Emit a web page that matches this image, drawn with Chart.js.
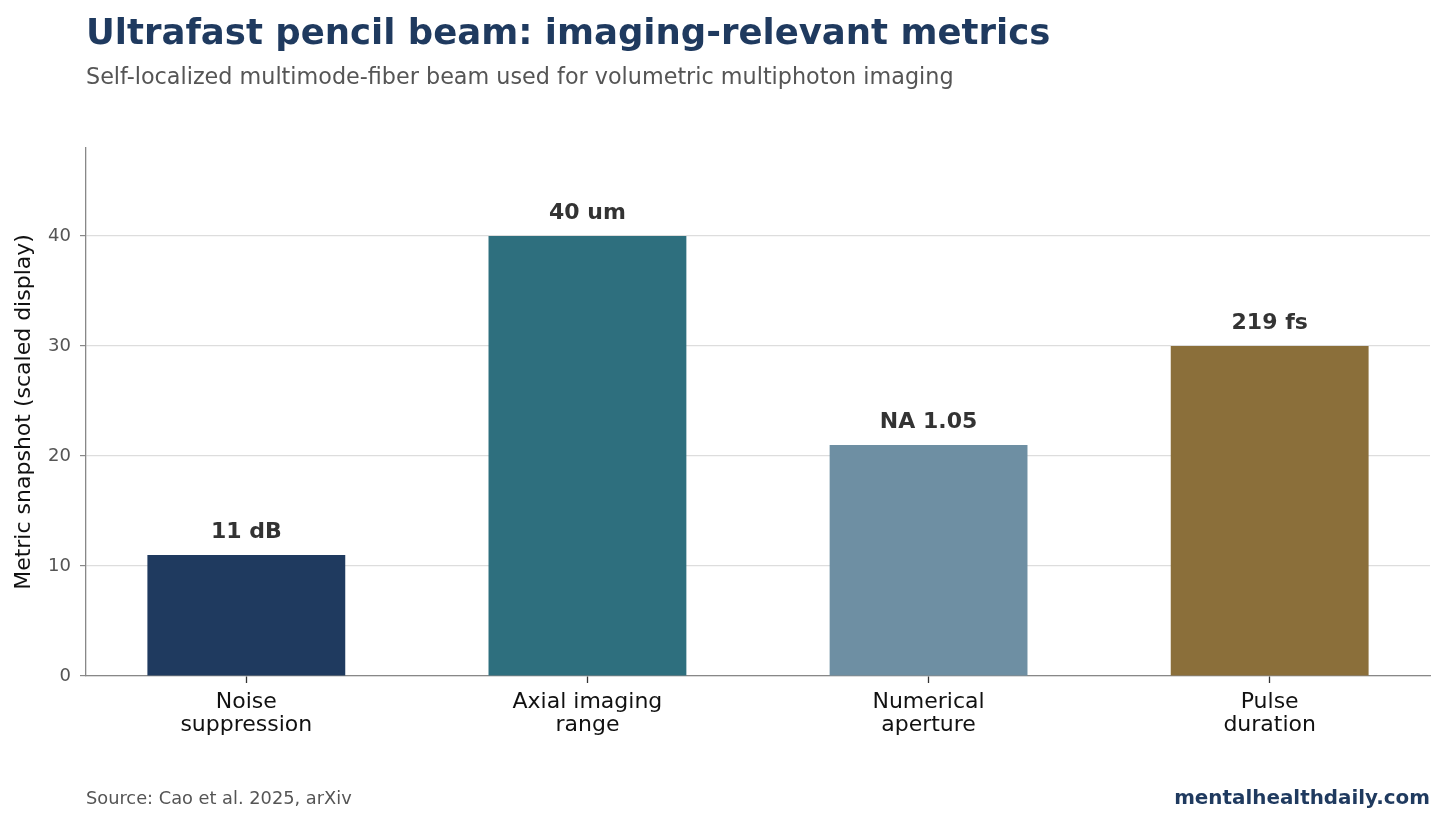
<!DOCTYPE html>
<html>
<head>
<meta charset="utf-8">
<script src="https://cdn.jsdelivr.net/npm/chart.js@4"></script>
<style>
  body { margin: 0; background: #fff; }
  canvas { display: block; }
</style>
</head>
<body>
<canvas id="myChart" width="1446" height="824"></canvas>
<script>
// chart data
const categories = [["Noise", "suppression"], ["Axial imaging", "range"], ["Numerical", "aperture"], ["Pulse", "duration"]];
const values = [11, 40, 21, 30];
const valueLabels = ["11 dB", "40 um", "NA 1.05", "219 fs"];
const barColors = ["#1f3a5f", "#2e6f7e", "#6e8fa3", "#8b6f3a"];
const yTicks = [0, 10, 20, 30, 40];

const titleText = "Ultrafast pencil beam: imaging-relevant metrics";
const subtitleText = "Self-localized multimode-fiber beam used for volumetric multiphoton imaging";
const sourceText = "Source: Cao et al. 2025, arXiv";
const brandText = "mentalhealthdaily.com";

const FONT = "'DejaVu Sans', sans-serif";

// draws the value above each bar
const valueLabelPlugin = {
  id: "valueLabels",
  afterDatasetsDraw(chart) {
    const ctx = chart.ctx;
    const meta = chart.getDatasetMeta(0);
    ctx.save();
    ctx.font = "bold 22px " + FONT;
    ctx.fillStyle = "#333333";
    ctx.textAlign = "center";
    ctx.textBaseline = "middle";
    meta.data.forEach((bar, i) => {
      ctx.fillText(valueLabels[i], bar.x, bar.y - 23);
    });
    ctx.restore();
  },
};

// titles and footer text
const textPlugin = {
  id: "pageText",
  afterDraw(chart) {
    const ctx = chart.ctx;
    const left = chart.chartArea.left;
    const right = chart.chartArea.right;
    ctx.save();
    ctx.textBaseline = "alphabetic";
    ctx.textAlign = "left";
    ctx.fillStyle = "#1f3a5f";
    ctx.font = "bold 35.5px " + FONT;
    ctx.fillText(titleText, left, 44);
    ctx.fillStyle = "#555555";
    ctx.font = "22.3px " + FONT;
    ctx.fillText(subtitleText, left, 84);
    ctx.font = "17.8px " + FONT;
    ctx.fillText(sourceText, left, 804);
    ctx.textAlign = "right";
    ctx.fillStyle = "#1f3a5f";
    ctx.font = "bold 19.9px " + FONT;
    ctx.fillText(brandText, right, 804);
    ctx.restore();
  },
};

const ctx = document.getElementById("myChart");

const chart = new Chart(ctx, {
  type: "bar",
  data: {
    datasets: [
      {
        data: values.map((v, i) => ({ x: i, y: v })),
        backgroundColor: barColors,
        borderWidth: 0,
        barPercentage: 0.58,
        categoryPercentage: 1,
      },
    ],
  },
  options: {
    responsive: false,
    animation: false,
    layout: { padding: { top: 148, right: 16, bottom: 0, left: 0 } },
    plugins: {
      legend: { display: false },
      tooltip: { enabled: false },
    },
    scales: {
      x: {
        type: "linear",
        min: -0.47,
        max: 3.47,
        offset: false,
        afterBuildTicks: (axis) => {
          axis.ticks = categories.map((c, i) => ({ value: i }));
        },
        afterFit: (axis) => {
          axis.height = 148;
        },
        border: { color: "#888888", width: 1.3 },
        grid: {
          offset: false,
          drawOnChartArea: false,
          drawTicks: true,
          tickLength: 7,
          tickColor: "#333333",
          tickWidth: 1.3,
        },
        ticks: {
          autoSkip: false,
          maxRotation: 0,
          padding: 8,
          color: "#111111",
          font: { family: FONT, size: 22, lineHeight: 1.05 },
          callback: (value) => categories[value],
        },
      },
      y: {
        min: 0,
        max: 48,
        afterBuildTicks: (axis) => {
          axis.ticks = yTicks.map((v) => ({ value: v }));
        },
        afterFit: (axis) => {
          axis.width = 86;
        },
        border: { color: "#888888", width: 1.3 },
        grid: {
          color: "#dddddd",
          lineWidth: 1.2,
          tickLength: 6,
          tickColor: "#888888",
        },
        ticks: {
          padding: 9,
          color: "#555555",
          font: { family: FONT, size: 18 },
        },
        title: {
          display: true,
          text: "Metric snapshot (scaled display)",
          color: "#111111",
          padding: { top: 11, bottom: 0 },
          font: { family: FONT, size: 22 },
        },
      },
    },
  },
  plugins: [valueLabelPlugin, textPlugin],
});
</script>
</body>
</html>
